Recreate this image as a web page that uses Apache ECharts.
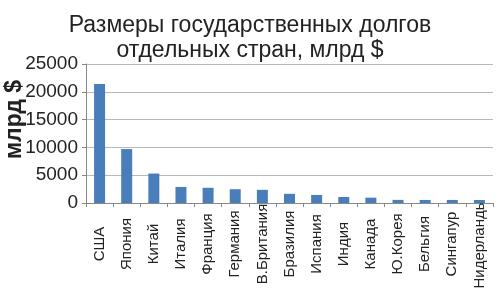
<!DOCTYPE html>
<html><head><meta charset="utf-8">
<script src="https://cdn.jsdelivr.net/npm/echarts@6/dist/echarts.min.js"></script>
<style>html,body{margin:0;padding:0;background:#fff}#c{width:500px;height:288px}</style>
</head><body><div id="c"></div>
<script>
const categories = ["США","Япония","Китай","Италия","Франция","Германия","В.Британия","Бразилия","Испания","Индия","Канада","Ю.Корея","Бельгия","Сингапур","Нидерланды"];
const debt = [21400, 9700, 5300, 2890, 2740, 2480, 2370, 1650, 1450, 1080, 960, 560, 550, 550, 540];
const yTicks = [0, 5000, 10000, 15000, 20000, 25000];

const chart = echarts.init(document.getElementById('c'), null, {renderer: 'canvas'});
chart.setOption({
  animation: false,
  title: {
    text: 'Размеры государственных долгов\nотдельных стран, млрд $',
    left: 'center', top: 8,
    textStyle: {fontFamily: 'Liberation Sans', fontSize: 23, fontWeight: 'normal', color: '#222', lineHeight: 25}
  },
  grid: {left: 86, right: 7, top: 64, bottom: 85, containLabel: false, outerBoundsMode: 'none'},
  xAxis: {
    type: 'category', data: categories, boundaryGap: true,
    axisLine: {lineStyle: {color: '#888'}},
    axisTick: {show: true, alignWithLabel: false, length: 4, lineStyle: {color: '#888'}},
    axisLabel: {rotate: 90, align: 'center', verticalAlign: 'middle', margin: 41, interval: 0,
      fontFamily: 'Liberation Sans', fontSize: 15, color: '#222', hideOverlap: false}
  },
  yAxis: {
    type: 'value', min: yTicks[0], max: yTicks[yTicks.length-1], interval: 5000,
    name: 'млрд $', nameLocation: 'middle', nameGap: 60, nameRotate: 90, nameMoveOverlap: false,
    nameTextStyle: {fontFamily: 'Liberation Sans', fontSize: 23, fontWeight: 'bold', color: '#222',
      padding: [0, 0, 0, 28]},
    axisLine: {show: true, lineStyle: {color: '#888'}},
    axisTick: {show: true, length: 4, lineStyle: {color: '#888'}},
    axisLabel: {fontFamily: 'Liberation Sans', fontSize: 19, color: '#222', margin: 8,
      formatter: v => String(v)},
    splitLine: {lineStyle: {color: '#b8b8b8'}}
  },
  series: [{
    type: 'bar', data: debt, barWidth: 11,
    itemStyle: {color: '#4a7ebb'}
  }]
});
</script></body></html>
